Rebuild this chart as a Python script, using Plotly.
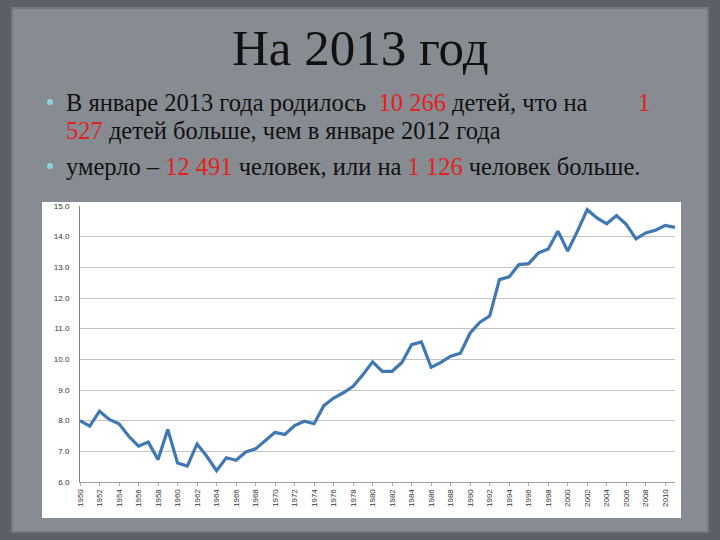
import plotly.graph_objects as go

# ─────────────────────────────────────────────────────────────────────────────
# ДАННЫЕ
# ─────────────────────────────────────────────────────────────────────────────

YEARS = list(range(1950, 2012))
VALUES = [
    8.00, 7.82, 8.31, 8.04, 7.90, 7.49, 7.17, 7.30, 6.73, 7.71,   # 1950-1959
    6.62, 6.52, 7.24, 6.84, 6.37, 6.79, 6.71, 6.98, 7.08, 7.35,   # 1960-1969
    7.62, 7.55, 7.84, 7.98, 7.90, 8.49, 8.74, 8.91, 9.12, 9.50,   # 1970-1979
    9.92, 9.61, 9.61, 9.90, 10.48, 10.57, 9.74, 9.90, 10.10, 10.20,  # 1980-1989
    10.86, 11.21, 11.41, 12.60, 12.69, 13.09, 13.12, 13.47, 13.60, 14.18,  # 1990-1999
    13.53, 14.18, 14.88, 14.61, 14.42, 14.69, 14.40, 13.93, 14.12, 14.21,  # 2000-2009
    14.37, 14.30,                                                  # 2010-2011
]
X_TICKS = list(range(1950, 2011, 2))
Y_TICKS = [6, 7, 8, 9, 10, 11, 12, 13, 14, 15]

TITLE = "На 2013 год"
RED = "#e3211c"
LINE1 = (f"В январе 2013 года родилось  <span style='color:{RED}'>10 266</span>"
         " детей, что на")
LINE1_TAIL = "1"
LINE2 = f"<span style='color:{RED}'>527</span> детей больше, чем в январе 2012 года"
LINE3 = (f"умерло – <span style='color:{RED}'>12 491</span> человек, или на "
         f"<span style='color:{RED}'>1 126</span> человек больше.")

# ── геометрия страницы (пиксели) ─────────────────────────────────────────────
W, H = 720, 540
ML, MR, MT, MB = 80, 45, 206, 58
PW, PH = W - ML - MR, H - MT - MB


def px(x):
    return (x - ML) / PW


def py(y):
    return (H - MB - y) / PH


fig = go.Figure()

fig.add_trace(go.Scatter(
    x=YEARS, y=VALUES,
    mode="lines",
    line=dict(color="#4078b3", width=3.2),
    showlegend=False,
))

# фон слайда: «бумага» и белая подложка диаграммы
shapes = [
    dict(type="rect", xref="paper", yref="paper",
         x0=px(12), x1=px(708), y0=py(8), y1=py(532),
         fillcolor="#878b92", line=dict(color="#74787f", width=2), layer="below"),
    dict(type="rect", xref="paper", yref="paper",
         x0=px(42), x1=px(681), y0=py(202), y1=py(518),
         fillcolor="white", line=dict(width=0), layer="below"),
]
for yb in (102, 166):
    shapes.append(dict(type="circle", xref="paper", yref="paper",
                       x0=px(47), x1=px(53), y0=py(yb - 3), y1=py(yb + 3),
                       fillcolor="#8fcfe0", line=dict(width=0)))

txt_font = dict(family="Liberation Serif", size=24.5, color="#111111")
annotations = [
    dict(text=TITLE, x=px(360), y=py(48), xref="paper", yref="paper",
         xanchor="center", yanchor="middle", showarrow=False,
         font=dict(family="Liberation Serif", size=51, color="#111111")),
    dict(text=LINE1, x=px(64), y=py(102), xref="paper", yref="paper",
         xanchor="left", yanchor="middle", showarrow=False, font=txt_font),
    dict(text=LINE1_TAIL, x=px(644), y=py(102), xref="paper", yref="paper",
         xanchor="center", yanchor="middle", showarrow=False,
         font=dict(family="Liberation Serif", size=24.5, color=RED)),
    dict(text=LINE2, x=px(64), y=py(131), xref="paper", yref="paper",
         xanchor="left", yanchor="middle", showarrow=False, font=txt_font),
    dict(text=LINE3, x=px(64), y=py(166), xref="paper", yref="paper",
         xanchor="left", yanchor="middle", showarrow=False, font=txt_font),
]

fig.update_layout(
    width=W, height=H,
    margin=dict(l=ML, r=MR, t=MT, b=MB),
    paper_bgcolor="#5b5f66",
    plot_bgcolor="white",
    shapes=shapes,
    annotations=annotations,
)

fig.update_xaxes(
    range=[1950, 2011],
    tickvals=X_TICKS,
    ticktext=[str(y) for y in X_TICKS],
    tickangle=-90,
    tickfont=dict(family="Liberation Sans", size=8, color="#333333"),
    ticks="outside", ticklen=3, tickcolor="#aaaaaa",
    showgrid=False,
    showline=True, linecolor="#a0a0a0", linewidth=1,
    zeroline=False,
)
fig.update_yaxes(
    range=[6, 15],
    tickvals=Y_TICKS,
    tickformat=".1f",
    tickfont=dict(family="Liberation Sans", size=8, color="#333333"),
    ticklabelstandoff=8,
    showgrid=True, gridcolor="#c4c4c4", gridwidth=1,
    showline=True, linecolor="#808080", linewidth=1,
    zeroline=False,
)

# убрать отступ страницы, чтобы фигура занимала окно целиком
fig.write_html("out.html", config={"displayModeBar": False},
               post_script="document.body.style.margin='0';")
